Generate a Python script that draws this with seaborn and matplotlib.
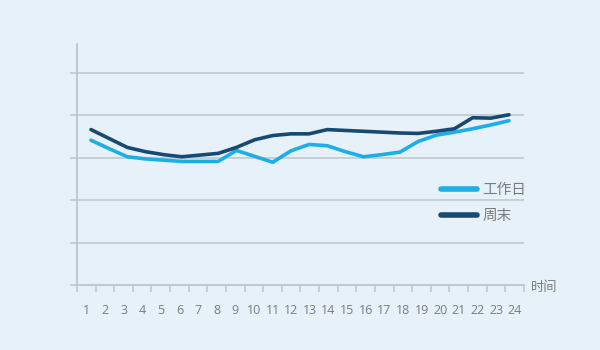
import numpy as np
import pandas as pd
import matplotlib
matplotlib.use("Agg")
import matplotlib.pyplot as plt
import seaborn as sns
from matplotlib.lines import Line2D
from matplotlib.transforms import offset_copy

hours = list(range(1, 25))
workday = [3.41, 3.21, 3.02, 2.97, 2.94, 2.91, 2.91, 2.91, 3.17, 3.03, 2.89, 3.16,
           3.31, 3.28, 3.14, 3.02, 3.07, 3.13, 3.38, 3.53, 3.60, 3.68, 3.77, 3.87]
weekend = [3.66, 3.45, 3.24, 3.14, 3.07, 3.02, 3.06, 3.10, 3.24, 3.42, 3.52, 3.56,
           3.56, 3.66, 3.64, 3.62, 3.60, 3.58, 3.57, 3.62, 3.68, 3.94, 3.93, 4.01]
series_names = ["工作日", "周末"]
x_title = "时间"

sns.set_theme(style="white")
plt.rcParams['font.family'] = ['Open Sans', 'Noto Sans CJK SC', 'DejaVu Sans']

bg = "#e7f1f9"
grid_c = "#bec5cb"
text_c = "#7a7d80"
colors = {"工作日": "#1caee6", "周末": "#174a72"}

df = pd.DataFrame({
    "hour": hours * 2,
    "value": workday + weekend,
    "series": [series_names[0]] * 24 + [series_names[1]] * 24,
})

fig = plt.figure(figsize=(6, 3.5), dpi=100, facecolor=bg)
ax = fig.add_axes([77/600, 1-285/350, (524-77)/600, (285-44)/350])
ax.set_facecolor(bg)

sns.lineplot(data=df, x="hour", y="value", hue="series", palette=colors,
             linewidth=2.6, legend=False, ax=ax, zorder=3)

lo, hi = 0.2295, 24.826
ax.set_xlim(lo, hi)
ax.set_ylim(0, 5.676)

for v in range(1, 6):
    ax.axhline(v, color=grid_c, lw=1.1, zorder=1)
ax.set_yticks(range(0, 6))
ax.set_yticklabels([])
ax.tick_params(axis='y', which='major', length=5, width=1.1, color=grid_c, direction='out', left=True)

bounds = [lo + (hi - lo) * k / 24 for k in range(25)]
centers = [lo + (hi - lo) * (k + 0.5) / 24 for k in range(24)]
ax.set_xticks(bounds)
ax.set_xticklabels([])
ax.set_xticks(centers, minor=True)
ax.set_xticklabels([str(h) for h in hours], minor=True)
ax.tick_params(axis='x', which='major', length=5, width=1.1, color=grid_c, direction='out', bottom=True)
ax.tick_params(axis='x', which='minor', length=0, pad=14, labelsize=9, labelcolor=text_c)

for s in ['top', 'right']:
    ax.spines[s].set_visible(False)
for s in ['left', 'bottom']:
    ax.spines[s].set_color(grid_c)
    ax.spines[s].set_linewidth(1.3)
ax.set_xlabel("")
ax.set_ylabel("")

tr = offset_copy(ax.transAxes, fig=fig, x=7, y=-3, units='dots')
ax.text(1.0, 0.0, x_title, transform=tr, ha='left', va='center',
        fontsize=9.5, color=text_c)

handles = [Line2D([0], [0], color=colors[n], lw=4) for n in series_names]
leg = ax.legend(handles, series_names, frameon=False, loc='upper left',
                bbox_to_anchor=(441/600, 1-183/350), bbox_transform=fig.transFigure,
                borderpad=0, borderaxespad=0, handlelength=2.5, handletextpad=0.35,
                labelspacing=0.75, fontsize=10.5)
for t in leg.get_texts():
    t.set_color(text_c)

fig.savefig("out.png", dpi=100, facecolor=bg)
